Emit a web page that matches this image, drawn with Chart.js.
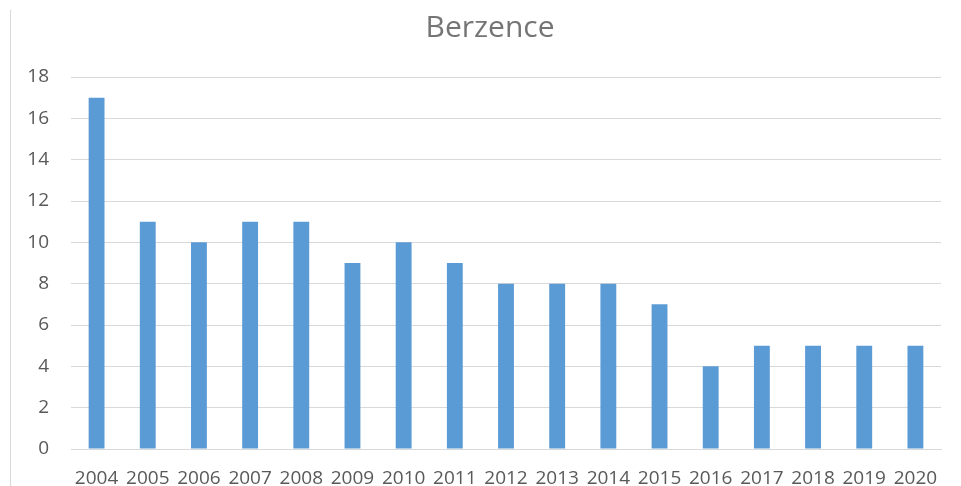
<!DOCTYPE html>
<html>
<head>
<meta charset="utf-8">
<script src="https://cdn.jsdelivr.net/npm/chart.js@4/dist/chart.umd.min.js"></script>
<style>
  html, body { margin: 0; padding: 0; background: #fff; }
  #wrap { position: relative; width: 961px; height: 486px; }
  #edge { position: absolute; left: 10px; top: 10px; width: 1px; height: 476px; background: #d9d9d9; }
</style>
</head>
<body>
<div id="wrap">
  <canvas id="chart" width="961" height="486"></canvas>
  <div id="edge"></div>
</div>
<script>
const years = ['2004', '2005', '2006', '2007', '2008', '2009', '2010', '2011', '2012',
  '2013', '2014', '2015', '2016', '2017', '2018', '2019', '2020'];
const counts = [17, 11, 10, 11, 11, 9, 10, 9, 8, 8, 8, 7, 4, 5, 5, 5, 5];
const yTicks = [0, 2, 4, 6, 8, 10, 12, 14, 16, 18];
const chartTitle = 'Berzence';

const font = '"Open Sans", "Liberation Sans", sans-serif';

// the original title sits a bit right of the canvas centre, so draw it by hand
const titlePlugin = {
  id: 'offsetTitle',
  afterDraw(chart) {
    const ctx = chart.ctx;
    ctx.save();
    ctx.font = '30px ' + font;
    ctx.fillStyle = '#757575';
    ctx.textAlign = 'center';
    ctx.textBaseline = 'middle';
    ctx.fillText(chartTitle, 490, 28);
    ctx.restore();
  }
};

new Chart(document.getElementById('chart'), {
  type: 'bar',
  data: {
    labels: years,
    datasets: [{
      label: chartTitle,
      data: counts,
      backgroundColor: '#5b9bd5',
      barPercentage: 0.31,
      categoryPercentage: 1
    }]
  },
  options: {
    responsive: false,
    animation: false,
    layout: { padding: { top: 77, right: 20, bottom: 0, left: 0 } },
    plugins: {
      legend: { display: false },
      tooltip: { enabled: false },
      title: { display: false }
    },
    scales: {
      x: {
        grid: { display: false },
        border: { color: '#d9d9d9' },
        ticks: {
          color: '#595959',
          font: { family: font, size: 19 },
          padding: 10,
          maxRotation: 0,
          autoSkip: false
        },
        afterFit: (scale) => { scale.height = 37; }
      },
      y: {
        min: 0,
        max: 18,
        afterBuildTicks: (scale) => { scale.ticks = yTicks.map(v => ({ value: v })); },
        grid: { color: '#d9d9d9', drawTicks: false },
        border: { display: false },
        ticks: {
          color: '#595959',
          font: { family: font, size: 19 },
          padding: 22
        },
        afterFit: (scale) => { scale.width = 71; }
      }
    }
  },
  plugins: [titlePlugin]
});
</script>
</body>
</html>
